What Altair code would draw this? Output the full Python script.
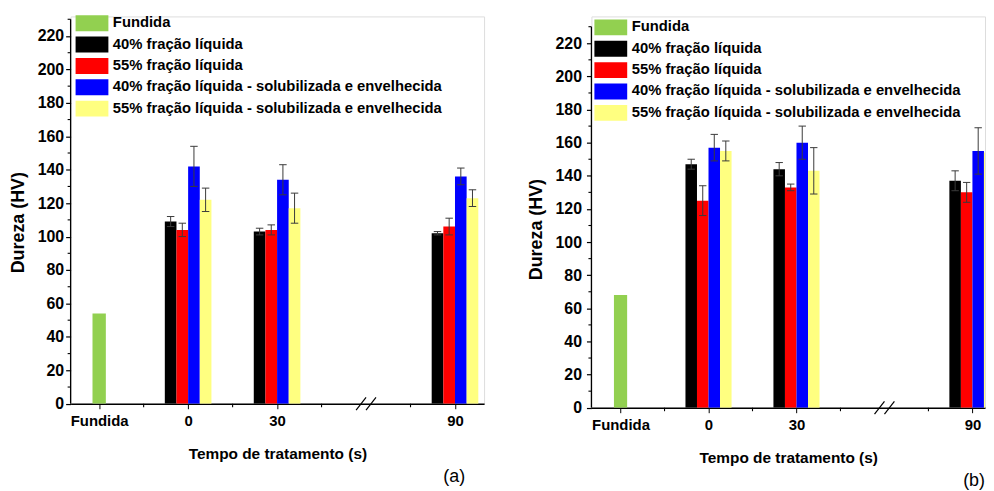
import json
import altair as alt
import pandas as pd

# ---------------- data ----------------
slots = ["Fundida", "0", "30", "", "90"]          # "" = axis break
times = ["0", "30", "90"]
series = ["Fundida", "40% fração líquida", "55% fração líquida",
          "40% fração líquida - solubilizada e envelhecida",
          "55% fração líquida - solubilizada e envelhecida"]
colors = ["#92D050", "#000000", "#FF0000", "#0000FF", "#FFFF80"]

# panel (a)
a_fundida = 54
a_40 = [109, 103, 102]
a_40_err = [3, 2, 1]
a_55 = [104, 104, 106]
a_55_err = [4, 3, 5]
a_40s = [142, 134, 136]
a_40s_err = [12, 9, 5]
a_55s = [122, 117, 123]
a_55s_err = [7, 9, 5]

# panel (b)
b_fundida = 68
b_40 = [147, 144, 137]
b_40_err = [3, 4, 6]
b_55 = [125, 133, 130]
b_55_err = [9, 2, 6]
b_40s = [157, 160, 155]
b_40s_err = [8, 10, 14]
b_55s = [155, 143, 154]
b_55s_err = [6, 14, 6]

y_ticks = list(range(0, 221, 20))
y_minor = list(range(10, 231, 20))
y_axis_top = 230
x_minor = [0.5, 1.5, 2.5, 3.5]

FONT = "Liberation Sans"
BAR_W = 0.131
FUND_W = 0.15
CAP = 0.042


def build(fund, vals, errs):
    bars, errsr = [], []
    bars.append(dict(series=series[0], x0=-FUND_W / 2, x1=FUND_W / 2, value=fund, base=0))
    for k in range(1, 5):
        for j, t in enumerate(times):
            s = slots.index(t)
            x0 = s + (k - 3) * BAR_W
            v = vals[k - 1][j]
            e = errs[k - 1][j]
            bars.append(dict(series=series[k], x0=x0, x1=x0 + BAR_W, value=v, base=0))
            xc = x0 + BAR_W / 2
            errsr.append(dict(xc=xc, cl=xc - CAP, cr=xc + CAP, lo=v - e, hi=v + e))
    return pd.DataFrame(bars), pd.DataFrame(errsr)


def panel(fund, vals, errs, xdom, ytop, width, height, legx, legy, ylpad, ytpad, ytitle_y,
          label, ldx):
    dfb, dfe = build(fund, vals, errs)
    pxx = width / (xdom[1] - xdom[0])      # pixels per x unit
    pxy = height / ytop                     # pixels per y unit
    xs = alt.Scale(domain=xdom, nice=False, zero=False)
    ys = alt.Scale(domain=[0, ytop], nice=False, zero=False)
    xaxis = alt.Axis(values=[0, 1, 2, 4],
                     labelExpr=json.dumps(slots) + "[datum.value]",
                     title="Tempo de tratamento (s)", grid=False, labelFlush=False,
                     tickSize=5, tickColor="black", domainColor="black", domainWidth=1.3,
                     labelFont=FONT, labelFontSize=15, labelFontWeight="bold", labelColor="black",
                     labelPadding=5, titleFont=FONT, titleFontSize=15.5, titleFontWeight="bold",
                     titleColor="black", titlePadding=18)
    yaxis = alt.Axis(values=y_ticks, title="Dureza (HV)", grid=False, domain=False,
                     labelFlush=False,
                     tickSize=5, tickColor="black", tickWidth=1.2, labelFont=FONT, labelFontSize=16,
                     labelFontWeight="bold", labelColor="black", labelPadding=ylpad,
                     titleFont=FONT, titleFontSize=18, titleFontWeight="bold",
                     titleColor="black", titlePadding=ytpad, titleY=ytitle_y)
    X = lambda f: alt.X(f, scale=xs, axis=xaxis)
    Y = lambda f: alt.Y(f, scale=ys, axis=yaxis)

    legend = alt.Legend(orient="none", legendX=legx, legendY=legy, title=None,
                        symbolType="M-2.0625,-1H2.0625V1H-2.0625Z", symbolSize=256,
                        symbolStrokeWidth=0, symbolOpacity=1,
                        labelFont=FONT, labelFontSize=14.9, labelFontWeight="bold",
                        labelColor="black", labelLimit=0, rowPadding=5.5, labelOffset=13,
                        padding=0)

    bars = alt.Chart(dfb).mark_bar(clip=True).encode(
        x=X("x0:Q"), x2="x1:Q", y=Y("value:Q"), y2="base:Q",
        color=alt.Color("series:N", scale=alt.Scale(domain=series, range=colors),
                        legend=legend, sort=series))
    ecol = "#3a3a3a"
    erule = alt.Chart(dfe).mark_rule(color=ecol, strokeWidth=1, clip=True).encode(
        x=X("xc:Q"), y=Y("lo:Q"), y2="hi:Q")
    caph = alt.Chart(dfe).mark_rule(color=ecol, strokeWidth=1, clip=True).encode(
        x=X("cl:Q"), x2="cr:Q", y=Y("hi:Q"))
    capl = alt.Chart(dfe).mark_rule(color=ecol, strokeWidth=1, clip=True).encode(
        x=X("cl:Q"), x2="cr:Q", y=Y("lo:Q"))
    # y axis line (up to 230) and minor ticks
    yline = alt.Chart(pd.DataFrame({"xl": [xdom[0]], "y0": [0], "y1": [y_axis_top]})).mark_rule(
        color="black", strokeWidth=1.3).encode(x=X("xl:Q"), y=Y("y0:Q"), y2="y1:Q")
    ym = pd.DataFrame({"v": y_minor, "xa": xdom[0] - 3 / pxx, "xb": xdom[0]})
    yminor = alt.Chart(ym).mark_rule(color="black", strokeWidth=1.1).encode(
        y=Y("v:Q"), x=X("xa:Q"), x2="xb:Q")
    xm = pd.DataFrame({"v": x_minor, "ya": 0, "yb": -3.5 / pxy})
    xminor = alt.Chart(xm).mark_rule(color="black", strokeWidth=1.1).encode(
        x=X("v:Q"), y=Y("ya:Q"), y2="yb:Q")
    bslot = slots.index("")
    dx5 = 5 / pxx
    dy6 = 6.5 / pxy
    brk = pd.DataFrame({"bx0": [bslot - 2 * dx5, bslot], "bx1": [bslot, bslot + 2 * dx5],
                        "by0": [-dy6, -dy6], "by1": [dy6, dy6]})
    breaks = alt.Chart(brk).mark_rule(color="black", strokeWidth=1.2).encode(
        x=X("bx0:Q"), x2="bx1:Q", y=Y("by0:Q"), y2="by1:Q")

    return alt.layer(bars, erule, caph, capl, yline, yminor, xminor, breaks).properties(
        width=width, height=height,
        title=alt.TitleParams(label, orient="bottom", anchor="end", dx=ldx, offset=6,
                              font=FONT, fontSize=18, fontWeight="normal", color="black"))


pa = panel(a_fundida, [a_40, a_55, a_40s, a_55s], [a_40_err, a_55_err, a_40s_err, a_55s_err],
           [-0.321, 4.327], 231.7, 416, 389.7, 13.5, -1.2, 2, 10, 207, "(a)", -19)
pb = panel(b_fundida, [b_40, b_55, b_40s, b_55s], [b_40_err, b_55_err, b_40s_err, b_55s_err],
           [-0.331, 4.143], 236.2, 396, 393.7, 11.5, 3.0, 5, 10, 214, "(b)", 0)

chart = alt.hconcat(pa, pb, spacing=41).resolve_scale(color="independent").resolve_legend(
    color="independent").properties(
    padding={"left": 0, "top": 5, "right": 0, "bottom": 0}
).configure_view(stroke=None).configure(font=FONT, background="white")

chart.save("out.html", embed_options={"renderer": "svg", "actions": False})
